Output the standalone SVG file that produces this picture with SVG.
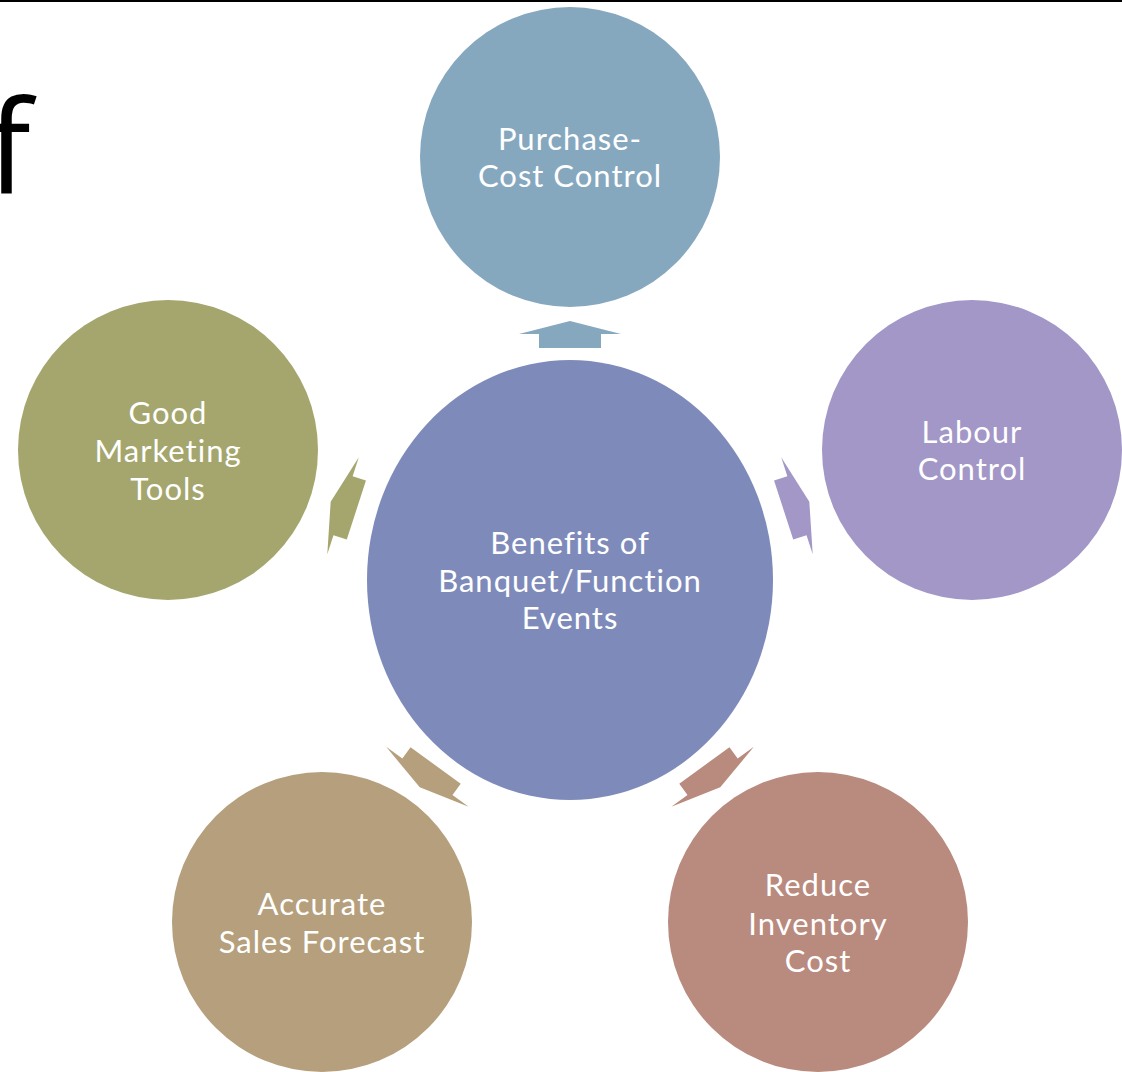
<svg xmlns="http://www.w3.org/2000/svg" width="1122" height="1072" viewBox="0 0 1122 1072">
  <style>
    .lbl { font-family: Lato, "Open Sans", "Liberation Sans", sans-serif; font-size: 31px; letter-spacing: 1px; font-variant-ligatures: none; fill: #ffffff; text-anchor: middle; }
    .title { font-family: "Open Sans", "Liberation Sans", sans-serif; font-size: 130px; fill: #000000; }
  </style>
  <defs>
    <!-- block arrow pointing up, centred on its origin -->
    <polygon id="arrow" points="0,-14 51,-1 31,-1 31,13 -31,13 -31,-1 -51,-1"/>
  </defs>

  <rect x="0" y="0" width="1122" height="1072" fill="#ffffff"/>
  <rect x="0" y="0" width="1122" height="2" fill="#000000"/>
  <text class="title" x="-13" y="193">f</text>

  <g id="connectors">
    <use href="#arrow" transform="translate(570,335)" fill="#86A8BF"/>
    <use href="#arrow" transform="translate(796,506) rotate(72)" fill="#A297C6"/>
    <use href="#arrow" transform="translate(712,776) rotate(144)" fill="#B98A7E"/>
    <use href="#arrow" transform="translate(428,776) rotate(216)" fill="#B59F7C"/>
    <use href="#arrow" transform="translate(344,506) rotate(288)" fill="#A4A66E"/>
  </g>

  <g id="center">
    <ellipse cx="570" cy="580" rx="203" ry="220" fill="#7E8BBA"/>
    <text class="lbl" x="570" y="554">Benefits of</text>
    <text class="lbl" x="570" y="592">Banquet/Function</text>
    <text class="lbl" x="570" y="629">Events</text>
  </g>

  <g id="purchase-cost-control">
    <circle cx="570" cy="157" r="150" fill="#86A8BF"/>
    <text class="lbl" x="570" y="150">Purchase-</text>
    <text class="lbl" x="570" y="187">Cost Control</text>
  </g>

  <g id="labour-control">
    <circle cx="972" cy="450" r="150" fill="#A297C6"/>
    <text class="lbl" x="972" y="443">Labour</text>
    <text class="lbl" x="972" y="480">Control</text>
  </g>

  <g id="reduce-inventory-cost">
    <circle cx="818" cy="922" r="150" fill="#B98A7E"/>
    <text class="lbl" x="818" y="896">Reduce</text>
    <text class="lbl" x="818" y="935">Inventory</text>
    <text class="lbl" x="818" y="972">Cost</text>
  </g>

  <g id="accurate-sales-forecast">
    <circle cx="322" cy="922" r="150" fill="#B59F7C"/>
    <text class="lbl" x="322" y="915">Accurate</text>
    <text class="lbl" x="322" y="953">Sales Forecast</text>
  </g>

  <g id="good-marketing-tools">
    <circle cx="168" cy="450" r="150" fill="#A4A66E"/>
    <text class="lbl" x="168" y="424">Good</text>
    <text class="lbl" x="168" y="462">Marketing</text>
    <text class="lbl" x="168" y="500">Tools</text>
  </g>
</svg>
